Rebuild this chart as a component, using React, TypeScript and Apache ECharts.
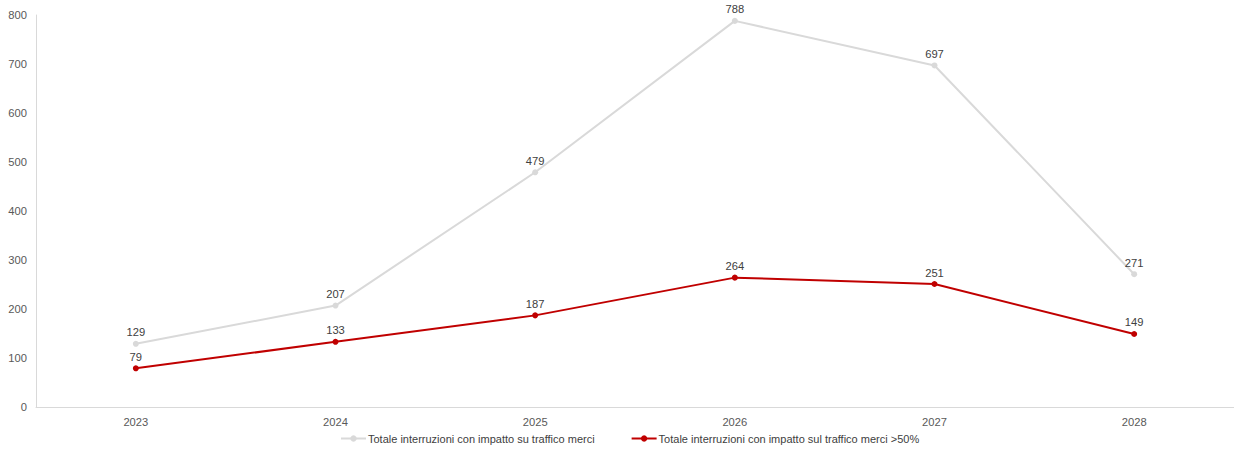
import React, { useEffect, useRef } from "react";
import * as echarts from "echarts";

const years = ["2023", "2024", "2025", "2026", "2027", "2028"];
const totalInterruzioni = [129, 207, 479, 788, 697, 271];
const interruzioniOver50 = [79, 133, 187, 264, 251, 149];
const seriesNames = [
  "Totale interruzioni con impatto su traffico merci",
  "Totale interruzioni con impatto sul traffico merci >50%",
];

export default function App() {
  const ref = useRef<HTMLDivElement>(null);
  useEffect(() => {
    if (!ref.current) return;
    const chart = echarts.init(ref.current, undefined, { renderer: "svg" });
    const font = "Arial, 'Liberation Sans', sans-serif";
    chart.setOption({
      animation: false,
      textStyle: { fontFamily: font },
      grid: { left: 36, right: -2, top: 15, bottom: 46, containLabel: false },
      legend: {
        bottom: 4,
        left: 335,
        itemWidth: 25,
        itemHeight: 8,
        itemGap: 36,
        textStyle: { color: "#404040", fontSize: 11, fontFamily: font, padding: [0, 0, 0, -3] },
        data: seriesNames,
      },
      xAxis: {
        type: "category",
        data: years,
        boundaryGap: true,
        axisLine: { lineStyle: { color: "#d9d9d9", width: 1 } },
        axisTick: { show: false },
        axisLabel: { color: "#595959", fontSize: 11.2, margin: 9, fontFamily: font },
      },
      yAxis: {
        type: "value",
        min: 0,
        max: 800,
        interval: 100,
        axisLine: { show: true, lineStyle: { color: "#d9d9d9", width: 1 } },
        axisTick: { show: false },
        splitLine: { show: false },
        axisLabel: { color: "#595959", fontSize: 11.2, margin: 9, fontFamily: font },
      },
      series: [
        {
          name: seriesNames[0],
          type: "line",
          data: totalInterruzioni,
          symbol: "circle",
          symbolSize: 6,
          lineStyle: { color: "#d9d9d9", width: 2 },
          itemStyle: { color: "#d9d9d9" },
          label: { show: true, position: "top", color: "#404040", fontSize: 11.2, distance: 3, fontFamily: font },
        },
        {
          name: seriesNames[1],
          type: "line",
          data: interruzioniOver50,
          symbol: "circle",
          symbolSize: 6,
          lineStyle: { color: "#c00000", width: 2 },
          itemStyle: { color: "#c00000" },
          label: { show: true, position: "top", color: "#404040", fontSize: 11.2, distance: 3, fontFamily: font },
        },
      ],
    });
    return () => chart.dispose();
  }, []);
  return (
    <div
      ref={ref}
      style={{ position: "absolute", left: 0, top: 0, width: 1234, height: 453, background: "#fff" }}
    />
  );
}
